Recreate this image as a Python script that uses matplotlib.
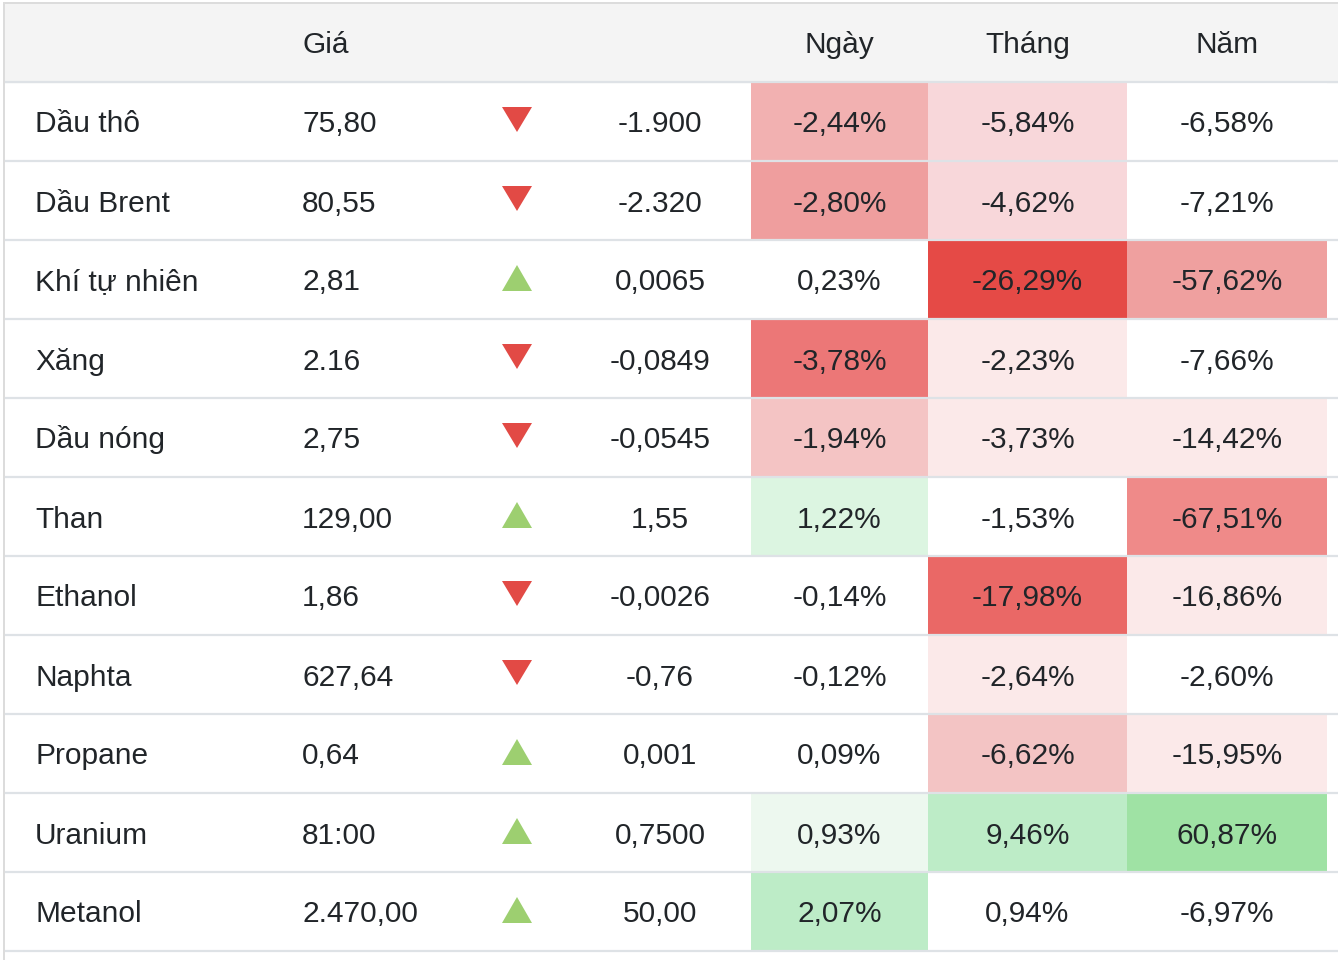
import matplotlib
matplotlib.use("Agg")
import matplotlib.pyplot as plt
from matplotlib.patches import Rectangle, Polygon

plt.rcParams['font.family'] = ['Liberation Sans', 'DejaVu Sans']

# dữ liệu bảng
headers = ["", "Giá", "", "", "Ngày", "Tháng", "Năm"]
names = ["Dầu thô", "Dầu Brent", "Khí tự nhiên", "Xăng", "Dầu nóng", "Than",
         "Ethanol", "Naphta", "Propane", "Uranium", "Metanol"]
prices = ["75,80", "80,55", "2,81", "2.16", "2,75", "129,00",
          "1,86", "627,64", "0,64", "81:00", "2.470,00"]
direction = ["down", "down", "up", "down", "down", "up",
             "down", "down", "up", "up", "up"]
changes = ["-1.900", "-2.320", "0,0065", "-0,0849", "-0,0545", "1,55",
           "-0,0026", "-0,76", "0,001", "0,7500", "50,00"]
day_pct = ["-2,44%", "-2,80%", "0,23%", "-3,78%", "-1,94%", "1,22%",
           "-0,14%", "-0,12%", "0,09%", "0,93%", "2,07%"]
month_pct = ["-5,84%", "-4,62%", "-26,29%", "-2,23%", "-3,73%", "-1,53%",
             "-17,98%", "-2,64%", "-6,62%", "9,46%", "0,94%"]
year_pct = ["-6,58%", "-7,21%", "-57,62%", "-7,66%", "-14,42%", "-67,51%",
            "-16,86%", "-2,60%", "-15,95%", "60,87%", "-6,97%"]

# màu nền ô (heatmap)
W = "#ffffff"
day_bg = ["#f2b1b1", "#ef9e9e", W, "#ec7777", "#f4c4c4", "#dcf5e1",
          W, W, W, "#edf8ef", "#bdecc7"]
month_bg = ["#f8d7da", "#f8d7da", "#e54a46", "#fbe9e9", "#fbe9e9", W,
            "#ea6866", "#fbe9e9", "#f3c4c4", "#bdecc7", W]
year_bg = [W, W, "#efa09f", W, "#fbe9e9", "#ef8a89",
           "#fbe9e9", W, "#fbe9e9", "#9fe2a4", W]

TXT = "#212529"
LINE = "#dee2e6"
FS = 21.5

fig = plt.figure(figsize=(13.38, 9.6), dpi=100)
ax = fig.add_axes([0, 0, 1, 1])
ax.set_xlim(0, 1338)
ax.set_ylim(960, 0)
ax.axis("off")

top, head_h, row_h = 3, 78.5, 79
pct_cols = [(751, 928), (928, 1127), (1127, 1327)]

# header
ax.add_patch(Rectangle((4, top), 1334, head_h, color="#f4f4f4", zorder=0))
hy = top + head_h / 2 + 11
ax.text(302, hy, headers[1], fontsize=FS, color=TXT, ha="left", va="baseline")
for (x0, x1), h in zip(pct_cols, headers[4:]):
    ax.text((x0 + x1) / 2, hy, h, fontsize=FS, color=TXT, ha="center", va="baseline")

for i in range(len(names)):
    y0 = top + head_h + i * row_h
    yc = y0 + row_h / 2
    yb = yc + 11.5
    for (x0, x1), bg, val in zip(pct_cols, [day_bg[i], month_bg[i], year_bg[i]],
                                 [day_pct[i], month_pct[i], year_pct[i]]):
        ax.add_patch(Rectangle((x0, y0), x1 - x0, row_h, color=bg, zorder=0, lw=0))
        ax.text((x0 + x1) / 2, yb, val, fontsize=FS, color=TXT, ha="center", va="baseline")
    ax.text(35, yb, names[i], fontsize=FS, color=TXT, ha="left", va="baseline")
    ax.text(302, yb, prices[i], fontsize=FS, color=TXT, ha="left", va="baseline")
    ax.text(660, yb, changes[i], fontsize=FS, color=TXT, ha="center", va="baseline")
    if direction[i] == "down":
        tri = [(502, yc - 14), (532, yc - 14), (517, yc + 11)]
        col = "#e24a45"
    else:
        tri = [(502, yc + 12), (532, yc + 12), (517, yc - 14)]
        col = "#9dcf70"
    ax.add_patch(Polygon(tri, closed=True, color=col, lw=0, zorder=2))

# lines
for i in range(len(names) + 1):
    y = top + head_h + i * row_h
    ax.plot([4, 1338], [y, y], color=LINE, lw=1.6, zorder=3, solid_capstyle="butt")
ax.plot([4, 1338], [top, top], color="#dcdcdc", lw=1.4, zorder=3)
ax.plot([4, 4], [top, 960], color="#dcdcdc", lw=1.4, zorder=3)

fig.savefig("out.png", dpi=100, facecolor="white")
